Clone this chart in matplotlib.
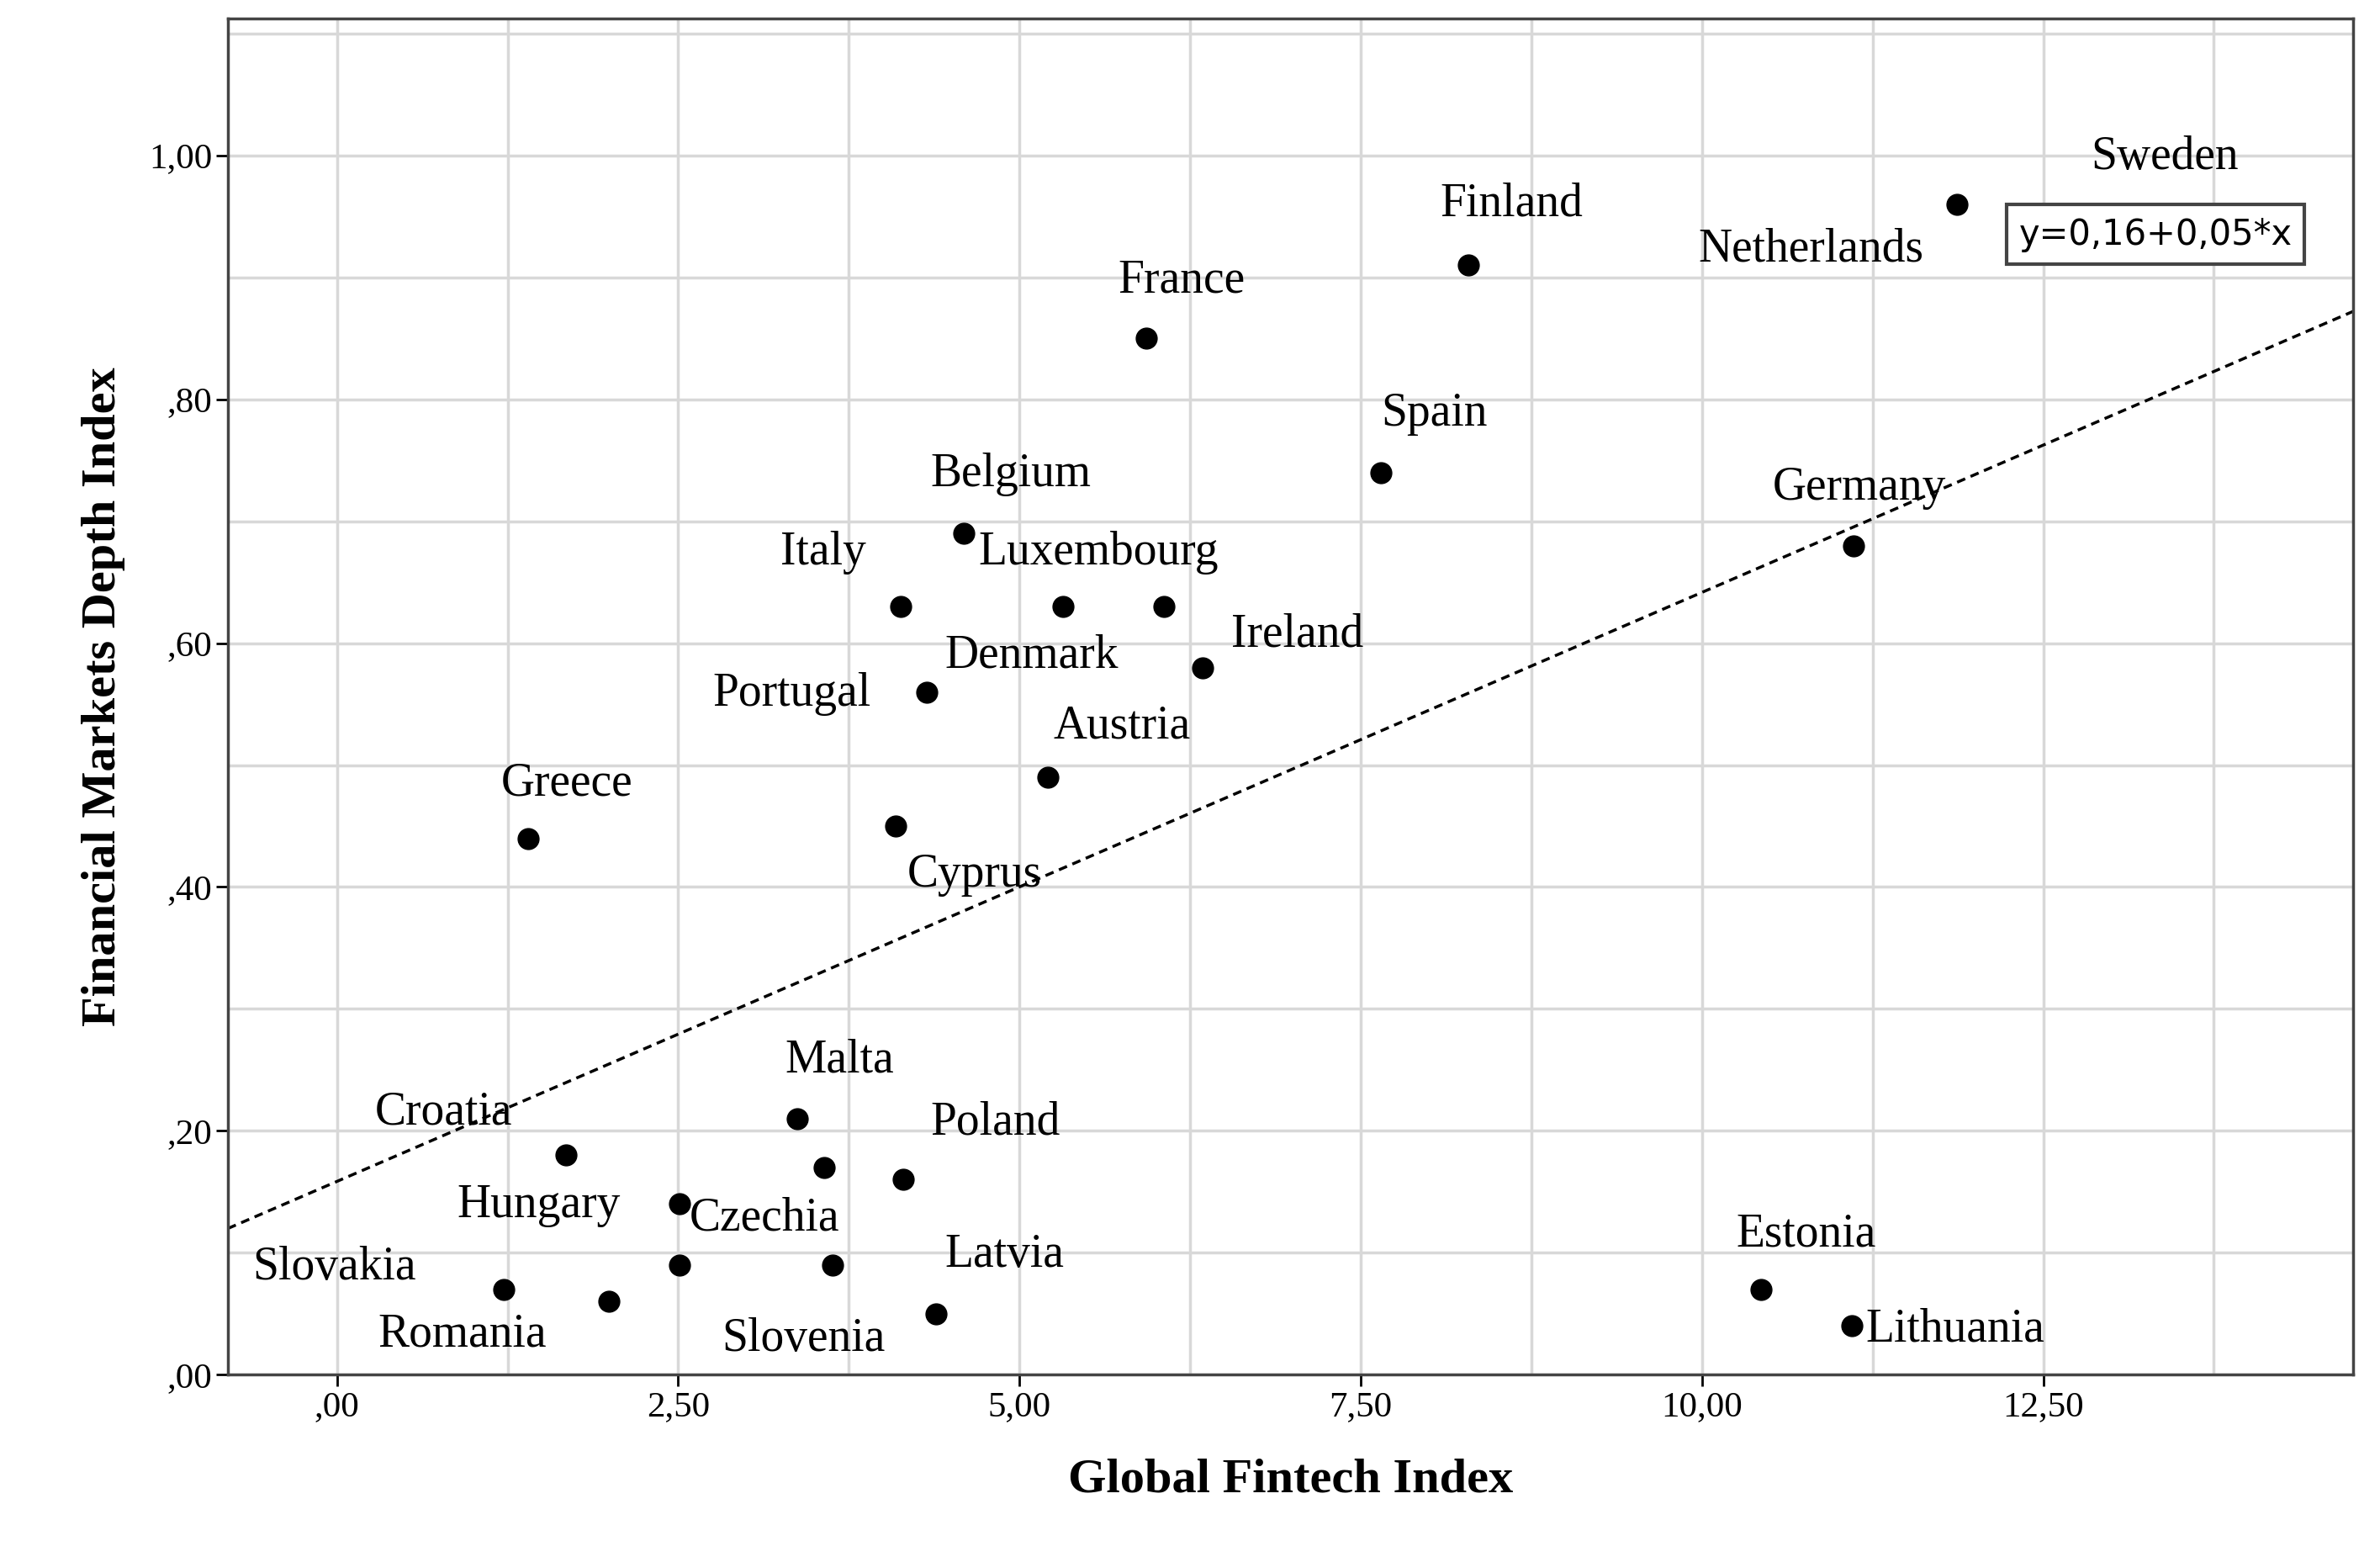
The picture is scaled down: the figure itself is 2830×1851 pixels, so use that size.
import matplotlib.pyplot as plt
from matplotlib.ticker import MultipleLocator, FuncFormatter

plt.rcParams['font.family'] = ['Liberation Serif', 'DejaVu Serif']

countries = ['Netherlands', 'Finland', 'France', 'Spain', 'Germany', 'Belgium', 'Italy',
             'Luxembourg', 'Denmark', 'Ireland', 'Portugal', 'Austria', 'Cyprus', 'Greece',
             'Malta', 'Bulgaria', 'Poland', 'Croatia', 'Hungary', 'Czechia', 'Slovenia', 'Latvia',
             'Slovakia', 'Romania', 'Estonia', 'Lithuania']
fintech = [11.87, 8.29, 5.93, 7.65, 11.11, 4.59, 4.13, 5.32, 6.06, 6.34, 4.32, 5.21, 4.09,
           1.40, 3.37, 3.57, 4.15, 1.68, 2.51, 2.51, 3.63, 4.39, 1.22, 1.99, 10.43, 11.10]
depth = [0.96, 0.91, 0.85, 0.74, 0.68, 0.69, 0.63, 0.63, 0.63, 0.58, 0.56, 0.49, 0.45,
         0.44, 0.21, 0.17, 0.16, 0.18, 0.14, 0.09, 0.09, 0.05, 0.07, 0.06, 0.07, 0.04]

# label positions (data coords, text left edge / vertical centre)
labels = {
    'Sweden': (12.85, 0.998), 'Netherlands': (9.97, 0.923), 'Finland': (8.08, 0.96),
    'France': (5.72, 0.897), 'Spain': (7.65, 0.788), 'Germany': (10.52, 0.727),
    'Belgium': (4.35, 0.738), 'Italy': (3.25, 0.674), 'Luxembourg': (4.70, 0.674),
    'Denmark': (4.45, 0.59), 'Ireland': (6.55, 0.607), 'Portugal': (2.75, 0.558),
    'Austria': (5.25, 0.532), 'Cyprus': (4.18, 0.41), 'Greece': (1.20, 0.485),
    'Malta': (3.28, 0.258), 'Poland': (4.35, 0.207), 'Croatia': (0.28, 0.215),
    'Hungary': (0.88, 0.139), 'Czechia': (2.58, 0.128), 'Latvia': (4.45, 0.098),
    'Slovakia': (-0.62, 0.088), 'Romania': (0.30, 0.033), 'Slovenia': (2.82, 0.029),
    'Estonia': (10.25, 0.115), 'Lithuania': (11.2, 0.037),
}

intercept, slope = 0.1586, 0.0483
xmin, xmax = -0.8, 14.77

fig = plt.figure(figsize=(28.3, 18.51), dpi=100)
ax = fig.add_axes([0.0957, 0.117, 0.893, 0.871])

ax.scatter(fintech, depth, s=320, color='black', zorder=3)
ax.plot([xmin, xmax], [intercept + slope * xmin, intercept + slope * xmax],
        ls=(0, (3, 2)), color='black', lw=2.5, zorder=2)

for name, (lx, ly) in labels.items():
    ax.text(lx, ly, name, fontsize=40, va='center', ha='left', zorder=4)

ax.text(12.32, 0.935, 'y=0,16+0,05*x', fontsize=30, family='DejaVu Sans', va='center',
        bbox=dict(boxstyle='square,pad=0.35', fc='white', ec='#444444', lw=3), zorder=5)

ax.set_xlim(xmin, xmax)
ax.set_ylim(0, 1.112)
ax.xaxis.set_major_locator(MultipleLocator(2.5))
ax.xaxis.set_minor_locator(MultipleLocator(1.25))
ax.yaxis.set_major_locator(MultipleLocator(0.2))
ax.yaxis.set_minor_locator(MultipleLocator(0.1))
fmt = lambda v, p: (f'{v:.2f}'.replace('.', ',').lstrip('0') if abs(v) < 1 else f'{v:.2f}'.replace('.', ','))
ax.xaxis.set_major_formatter(FuncFormatter(fmt))
ax.yaxis.set_major_formatter(FuncFormatter(fmt))
ax.grid(which='both', color='#d8d8d8', lw=2.5, zorder=0)
ax.set_axisbelow(True)
ax.tick_params(which='major', labelsize=31, length=10, width=2)
ax.tick_params(which='minor', length=0)
for s in ax.spines.values():
    s.set_linewidth(2.5)
    s.set_color('#444444')

ax.set_xlabel('Global Fintech Index', fontsize=42, fontweight='bold', labelpad=30)
ax.set_ylabel('Financial Markets Depth Index', fontsize=42, fontweight='bold', labelpad=20)

fig.savefig('out.png', dpi=100)
